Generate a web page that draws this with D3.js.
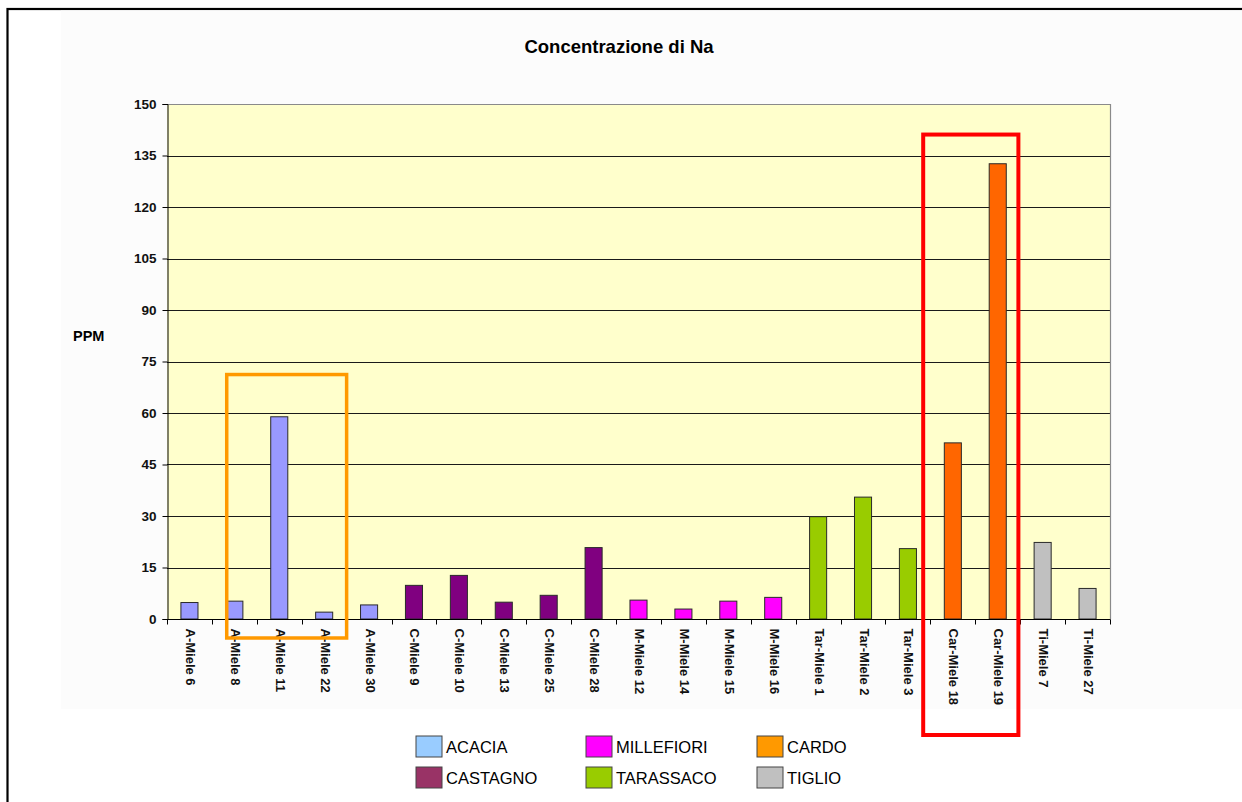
<!DOCTYPE html>
<html>
<head>
<meta charset="utf-8">
<script src="https://cdn.jsdelivr.net/npm/d3@7/dist/d3.min.js"></script>
<style>
  html, body { margin: 0; padding: 0; background: #ffffff; }
  svg { display: block; font-family: "Liberation Sans", Arial, sans-serif; }
</style>
</head>
<body>
<svg id="chart" width="1242" height="802"></svg>
<script>
// ---- data ----
const categories = ["A-Miele 6","A-Miele 8","A-Miele 11","A-Miele 22","A-Miele 30",
  "C-Miele 9","C-Miele 10","C-Miele 13","C-Miele 25","C-Miele 28",
  "M-Miele 12","M-Miele 14","M-Miele 15","M-Miele 16",
  "Tar-Miele 1","Tar-Miele 2","Tar-Miele 3",
  "Car-Miele 18","Car-Miele 19","Ti-Miele 7","Ti-Miele 27"];
const values = [4.8, 5.2, 58.9, 2.0, 4.1,
  9.8, 12.7, 4.9, 6.9, 20.8,
  5.5, 2.9, 5.2, 6.3,
  29.8, 35.5, 20.5,
  51.3, 132.6, 22.3, 8.9];
const groups = ["ACACIA","ACACIA","ACACIA","ACACIA","ACACIA",
  "CASTAGNO","CASTAGNO","CASTAGNO","CASTAGNO","CASTAGNO",
  "MILLEFIORI","MILLEFIORI","MILLEFIORI","MILLEFIORI",
  "TARASSACO","TARASSACO","TARASSACO",
  "CARDO","CARDO","TIGLIO","TIGLIO"];
const groupNames = ["ACACIA","CASTAGNO","MILLEFIORI","TARASSACO","CARDO","TIGLIO"];
const barColors = ["#9999ff","#800080","#ff00ff","#99cc00","#ff6600","#c0c0c0"];
const legendColors = ["#99ccff","#993366","#ff00ff","#99cc00","#ff9900","#c0c0c0"];
const legendOrder = ["ACACIA","MILLEFIORI","CARDO","CASTAGNO","TARASSACO","TIGLIO"];
const yTicks = [0,15,30,45,60,75,90,105,120,135,150];
const title = "Concentrazione di Na";
const yTitle = "PPM";
// highlight boxes: [first category, last category, top value]
const orangeBox = ["A-Miele 8","A-Miele 22",71.2];
const redBox = ["Car-Miele 18","Car-Miele 19",141.1];

// ---- layout ----
const svg = d3.select("#chart");
const plot = {left: 167, right: 1110, top: 104, bottom: 619};

// outer frame
svg.append("rect").attr("x",7.5).attr("y",9).attr("width",1300).attr("height",900)
  .attr("fill","#ffffff").attr("stroke","#000").attr("stroke-width",2.2);
// chart area (very light)
svg.append("rect").attr("x",61).attr("y",10.5).attr("width",1181).attr("height",698.5)
  .attr("fill","#fcfcfc");

const x = d3.scaleBand().domain(categories).range([plot.left, plot.right]).padding(0);
const y = d3.scaleLinear().domain([0,150]).range([plot.bottom, plot.top]);
const color = d3.scaleOrdinal().domain(groupNames).range(barColors);
const lcolor = d3.scaleOrdinal().domain(groupNames).range(legendColors);

// plot background
svg.append("rect").attr("x",plot.left).attr("y",plot.top)
  .attr("width",plot.right-plot.left).attr("height",plot.bottom-plot.top)
  .attr("fill","#ffffcc");

// gridlines
svg.append("g").selectAll("line").data(yTicks.filter(d=>d>0 && d<150)).join("line")
  .attr("x1",plot.left).attr("x2",plot.right)
  .attr("y1",d=>Math.round(y(d))+0.5).attr("y2",d=>Math.round(y(d))+0.5)
  .attr("stroke","#1a1a1a").attr("stroke-width",1);

// plot border top/right
svg.append("path")
  .attr("d",`M${plot.left},${plot.top+0.5}H${plot.right+0.5}V${plot.bottom}`)
  .attr("fill","none").attr("stroke","#8a8a8a").attr("stroke-width",1.2);

// bars
const bw = x.bandwidth()*0.38;
svg.append("g").selectAll("rect").data(categories).join("rect")
  .attr("x",(d)=>x(d)+x.bandwidth()/2-bw/2)
  .attr("y",(d,i)=>y(values[i]))
  .attr("width",bw)
  .attr("height",(d,i)=>y(0)-y(values[i]))
  .attr("fill",(d,i)=>color(groups[i]))
  .attr("stroke","#2a2a2a").attr("stroke-width",1);

// y axis
const yAxis = d3.axisLeft(y).tickValues(yTicks).tickSize(5).tickPadding(6);
const gy = svg.append("g").attr("transform",`translate(${plot.left+0.5},0)`).call(yAxis);
gy.select(".domain").attr("stroke","#000");
gy.selectAll(".tick line").attr("stroke","#000");
gy.selectAll(".tick text").attr("font-size","13.5px").attr("font-weight","bold")
  .attr("fill","#111").attr("font-family","Liberation Sans, Arial, sans-serif");

// x axis
const gx = svg.append("g").attr("transform",`translate(0,${plot.bottom+0.5})`);
gx.append("line").attr("x1",plot.left).attr("x2",plot.right+0.5).attr("y1",0).attr("y2",0).attr("stroke","#000");
const bounds = categories.map(c=>x(c)).concat([plot.right]);
gx.selectAll("line.tk").data(bounds).join("line").attr("class","tk")
  .attr("x1",d=>Math.round(d)+0.5).attr("x2",d=>Math.round(d)+0.5).attr("y1",0).attr("y2",5)
  .attr("stroke","#000");
gx.selectAll("text").data(categories).join("text")
  .attr("transform",d=>`translate(${x(d)+x.bandwidth()/2+1},${9}) rotate(90)`)
  .attr("text-anchor","start").attr("dominant-baseline","central")
  .attr("font-size","13px").attr("font-weight","bold").attr("fill","#111")
  .text(d=>d);

// title
svg.append("text").attr("x",619).attr("y",53).attr("text-anchor","middle")
  .attr("font-size","18.5px").attr("font-weight","bold").attr("fill","#000").text(title);
// y title
svg.append("text").attr("x",73).attr("y",341).attr("font-size","14.5px")
  .attr("font-weight","bold").attr("fill","#000").text(yTitle);

// highlight boxes
function boxFor(b, lo, hi, bottomY){
  const x0 = x(b[0]) + lo*x.bandwidth();
  const x1 = x(b[1]) + hi*x.bandwidth();
  return {x:x0, y:y(b[2]), w:x1-x0, h:bottomY-y(b[2])};
}
const ob = boxFor(orangeBox, 0.33, 1.0, 638);
svg.append("rect").attr("x",ob.x).attr("y",ob.y).attr("width",ob.w).attr("height",ob.h)
  .attr("fill","none").attr("stroke","#ff9900").attr("stroke-width",3.5);
const rb = boxFor(redBox, -0.16, 0.96, 735);
svg.append("rect").attr("x",rb.x).attr("y",rb.y).attr("width",rb.w).attr("height",rb.h)
  .attr("fill","none").attr("stroke","#ff0000").attr("stroke-width",4);

// legend
const lg = svg.append("g");
lg.append("rect").attr("x",404).attr("y",726).attr("width",456).attr("height",70).attr("fill","#ffffff");
const colX = [416, 586, 757];
const rowY = [736, 767];
legendOrder.forEach((name,i)=>{
  const cx = colX[i%3], cy = rowY[Math.floor(i/3)];
  lg.append("rect").attr("x",cx).attr("y",cy).attr("width",26).attr("height",21)
    .attr("fill",lcolor(name)).attr("stroke","#444").attr("stroke-width",1);
  lg.append("text").attr("x",cx+30).attr("y",cy+16.5).attr("font-size","16.5px")
    .attr("fill","#000").text(name);
});
</script>
</body>
</html>
